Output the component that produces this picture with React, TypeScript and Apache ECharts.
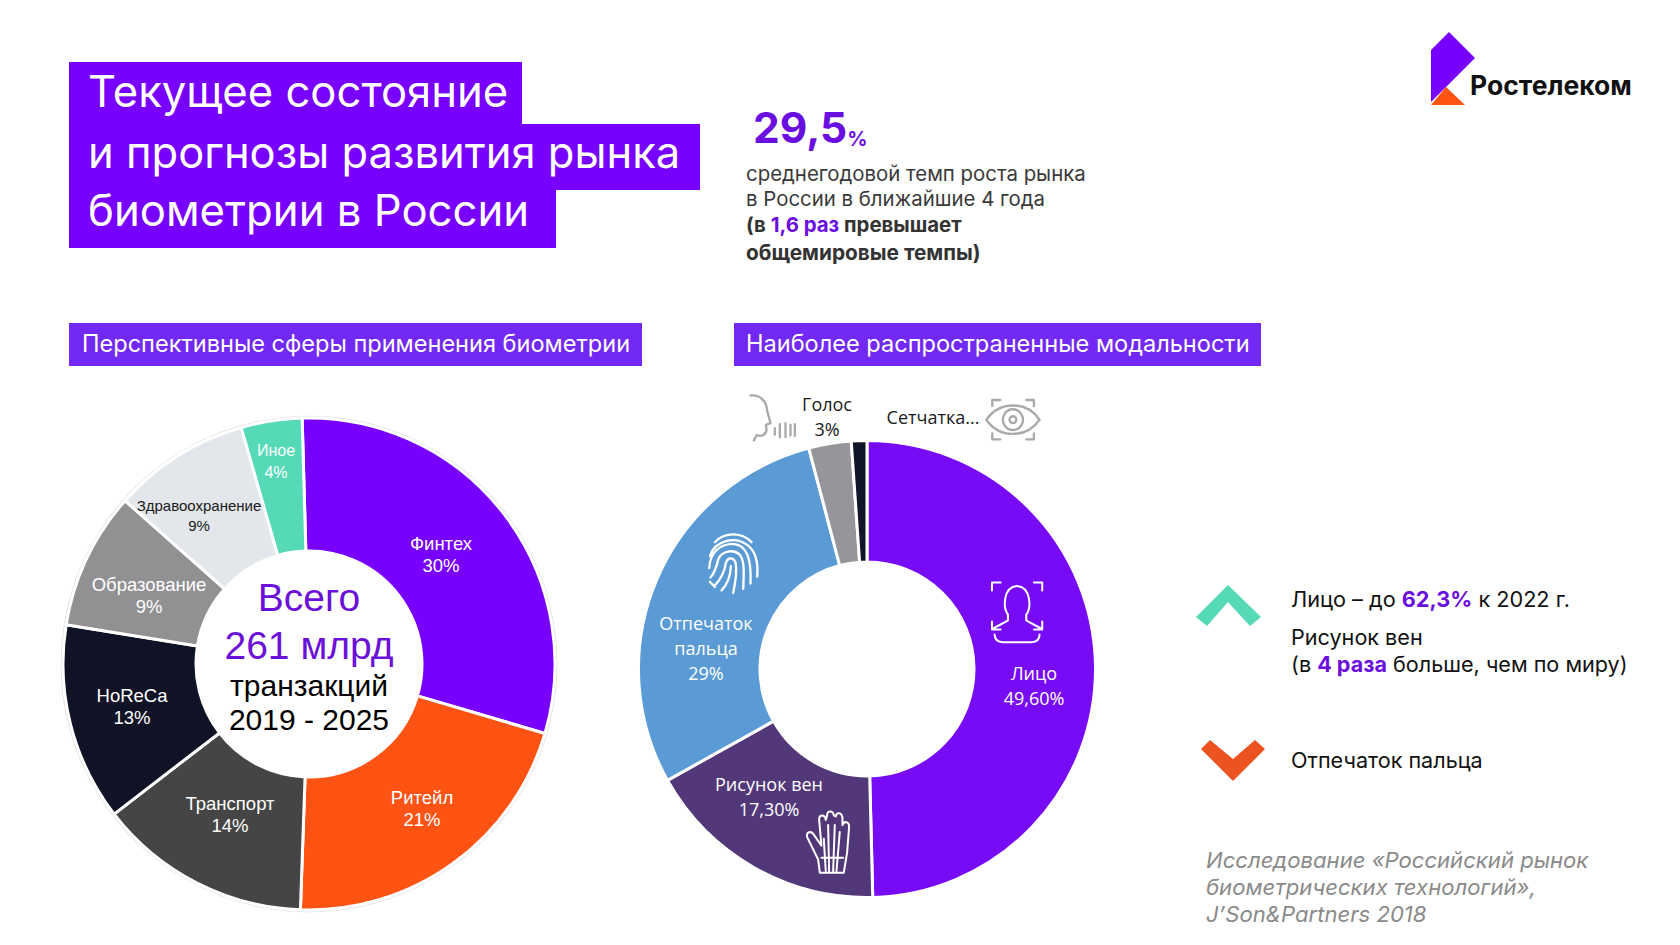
import React, { useEffect, useRef } from "react";
import * as echarts from "echarts";

const marketNames = ["Финтех", "Ритейл", "Транспорт", "HoReCa", "Образование", "Здравоохранение", "Иное"];
const marketValues = [30, 21, 14, 13, 9, 9, 4];
const marketColors = ["#7700FF", "#FF5314", "#454545", "#101325", "#919194", "#E3E7EC", "#55D9B6"];
const marketLabelColors = ["#fff", "#fff", "#fff", "#fff", "#fff", "#1a1a1a", "#fff"];
const marketLabelX = [441, 422, 230, 132, 149, 199, 276];
const marketLabelY = [554, 808, 814, 706, 595, 515, 461];

const modalityNames = ["Лицо", "Рисунок вен", "Отпечаток\nпальца", "Голос", "Сетчатка..."];
const modalityValues = [49.6, 17.3, 29, 3, 1.1];
const modalityText = ["49,60%", "17,30%", "29%", "3%", ""];
const modalityColors = ["#770BF5", "#523878", "#5B9BD5", "#96969A", "#101528"];
const modalityLabelColors = ["#fff", "#fff", "#fff", "#1a1a1a", "#1a1a1a"];
const modalityLabelX = [1034, 769, 706, 827, 933];
const modalityLabelY = [685, 796, 648, 416, 417];

const PURPLE = "#7700FF";
const HEAD = "#7229F5";
const ACCENT = "#6A0FE0";
const SANS = "Inter, 'Noto Sans', sans-serif";
const ARIAL = "'Liberation Sans', Arial, sans-serif";
const CAL = "'Open Sans', 'Noto Sans', sans-serif";

const icons: Record<string, string> = {
  iconFace:
    "M1117 610V587H1143 M1243 587H1268V610 M1117 700V723H1143 M1268 700V723H1243 M1165 680C1150 660 1150 600 1192 597C1235 600 1235 660 1220 680L1220 697C1235 706 1250 712 1268 722 M1165 680L1165 697C1150 706 1135 712 1117 722 M1125 738C1125 755 1135 760 1150 760H1235C1250 760 1260 755 1260 738",
  iconPrint:
    "M285 470C315 440 365 440 395 470 M270 510C285 465 345 450 385 480C410 500 415 535 412 570 M268 545C270 500 300 475 340 475C380 478 395 515 392 590 M272 572C285 560 290 540 295 520C305 495 340 490 358 505C375 520 372 560 370 605 M285 595C305 575 315 550 318 530C325 510 345 515 348 535C352 565 345 590 340 617 M305 610C325 590 332 565 333 540 M270 585L285 600",
  iconHand:
    "M600 1428L595 1390L562 1325C558 1310 575 1305 582 1318L605 1350L598 1275C598 1258 615 1258 618 1275L622 1262C622 1247 640 1247 642 1262L648 1265C650 1252 665 1252 668 1268L668 1290C672 1278 688 1278 688 1295L682 1370L672 1428Z M625 1290L628 1425 M645 1290L640 1425 M612 1330L618 1425 M660 1310L650 1425 M605 1385H670",
  iconVoice:
    "M392 45C420 42 440 60 442 90L452 125L438 130L440 145C438 160 425 165 410 160L402 175 M465 140V158 M480 128V166 M497 125V165 M512 130V160 M525 128V162",
  iconEye:
    "M1100 115C1140 60 1220 60 1260 115C1220 170 1140 170 1100 115Z M1180 85A30 30 0 1 0 1180.01 85Z M1180 105A10 10 0 1 0 1180.01 105Z M1118 75V58H1142 M1220 58H1243V75 M1118 155V172H1142 M1220 172H1243V155",
};
Object.keys(icons).forEach((k) => {
  echarts.graphic.registerShape(k, (echarts.graphic as any).extendPath(icons[k], {}));
});

const icon = (type: string, stroke: string, lineWidth: number) => ({
  type,
  x: 620,
  y: 380,
  scaleX: 1 / 3,
  scaleY: 1 / 2.9,
  z: 10,
  silent: true,
  style: { fill: "none", stroke, lineWidth, lineCap: "round", lineJoin: "round" },
});

const rect = (x: number, y: number, w: number, h: number, fill: string) => ({
  type: "rect",
  z: 1,
  silent: true,
  shape: { x, y, width: w, height: h },
  style: { fill },
});

const text = (t: string, x: number, y: number, fontSize: number, fill: string, extra: any = {}) => ({
  type: "text",
  z: 5,
  silent: true,
  style: {
    text: t,
    x,
    y,
    fontSize,
    fontFamily: SANS,
    fill,
    verticalAlign: "middle",
    align: "left",
    ...extra,
  },
});

const poly = (points: number[][], fill: string) => ({
  type: "polygon",
  z: 3,
  silent: true,
  shape: { points },
  style: { fill },
});

export default function App() {
  const ref = useRef<HTMLDivElement>(null);
  useEffect(() => {
    document.body.style.margin = "0";
    const chart = echarts.init(ref.current!, null, { renderer: "svg" });
    const rich = (size: number, base: string, bold = false) => ({
      b: { fontSize: size, fontFamily: SANS, fill: base, fontWeight: bold ? "bold" : "normal" },
      v: { fontSize: size, fontFamily: SANS, fill: ACCENT, fontWeight: "bold" },
    });
    chart.setOption({
      animation: false,
      backgroundColor: "#ffffff",
      series: [
        {
          type: "pie",
          name: "Перспективные сферы применения биометрии",
          center: [309, 664],
          radius: [113, 246],
          startAngle: 91.6,
          avoidLabelOverlap: false,
          silent: true,
          z: 3,
          itemStyle: { borderColor: "#fff", borderWidth: 3 },
          labelLine: { show: false },
          labelLayout: (p: any) => ({
            x: marketLabelX[p.dataIndex],
            y: marketLabelY[p.dataIndex],
            align: "center",
            verticalAlign: "middle",
          }),
          data: marketNames.map((name, i) => ({
            name,
            value: marketValues[i],
            itemStyle: { color: marketColors[i] },
            label: {
              show: true,
              position: "inside",
              formatter: `${name}\n${marketValues[i]}%`,
              color: marketLabelColors[i],
              fontFamily: ARIAL,
              fontSize: i === 5 ? 15 : i === 6 ? 16 : 18.5,
              lineHeight: i === 5 ? 20 : 22,
              textBorderWidth: 0,
            },
          })),
        },
        {
          type: "pie",
          name: "Наиболее распространенные модальности",
          center: [867, 669],
          radius: [107, 228.5],
          startAngle: 90,
          avoidLabelOverlap: false,
          silent: true,
          z: 3,
          itemStyle: { borderColor: "#fff", borderWidth: 3 },
          labelLine: { show: false },
          labelLayout: (p: any) => ({
            x: modalityLabelX[p.dataIndex],
            y: modalityLabelY[p.dataIndex],
            align: "center",
            verticalAlign: "middle",
          }),
          data: modalityNames.map((name, i) => ({
            name,
            value: modalityValues[i],
            itemStyle: { color: modalityColors[i] },
            label: {
              show: true,
              position: "inside",
              formatter: modalityText[i] ? `${name}\n${modalityText[i]}` : name,
              color: modalityLabelColors[i],
              fontFamily: CAL,
              fontSize: 18,
              lineHeight: 25,
            },
          })),
        },
      ],
      graphic: [
        rect(69, 62, 453, 63, PURPLE),
        rect(69, 124, 631, 66, PURPLE),
        rect(69, 189, 487, 59, PURPLE),
        text("Текущее состояние", 88, 91, 43.6, "#fff"),
        text("и прогнозы развития рынка", 88, 152, 43.5, "#fff"),
        text("биометрии в России", 88, 210, 43.7, "#fff"),

        text("{a|29,5}{p|%}", 753, 127, 42.5, ACCENT, {
          rich: {
            a: { fontSize: 42.5, fontFamily: SANS, fontWeight: "bold", fill: ACCENT },
            p: { fontSize: 20, fontFamily: SANS, fontWeight: "bold", fill: ACCENT, verticalAlign: "bottom" },
          },
        }),
        text("среднегодовой темп роста рынка", 746, 173, 20.4, "#3a3a3a"),
        text("в России в ближайшие 4 года", 746, 198, 20.4, "#3a3a3a"),
        text("{b|(в }{v|1,6 раз}{b| превышает}", 746, 224, 20.4, "#333", { rich: rich(20.4, "#333", true) }),
        text("общемировые темпы)", 746, 252, 20.8, "#333", { fontWeight: "bold" }),

        rect(69, 323, 573, 43, HEAD),
        rect(734, 323, 527, 43, HEAD),
        text("Перспективные сферы применения биометрии", 82, 343, 23.55, "#fff"),
        text("Наиболее распространенные модальности", 746, 343, 23.55, "#fff"),

        {
          type: "circle",
          z: 0,
          silent: true,
          shape: { cx: 309, cy: 664, r: 247.5 },
          style: { fill: "none", stroke: "#e4e4e4", lineWidth: 1.5 },
        },
        text("Всего", 309, 597, 39, "#6A10D8", { align: "center", fontFamily: ARIAL }),
        text("261 млрд", 309, 645, 39, "#6A10D8", { align: "center", fontFamily: ARIAL }),
        text("транзакций", 309, 685, 30, "#000", { align: "center", fontFamily: ARIAL }),
        text("2019 - 2025", 309, 719, 30, "#000", { align: "center", fontFamily: ARIAL }),

        icon("iconFace", "#fff", 6),
        icon("iconPrint", "#fff", 7),
        icon("iconHand", "#fff", 6),
        icon("iconVoice", "#aaaaaa", 7),
        icon("iconEye", "#aaaaaa", 7),

        poly([[1228, 585], [1261, 617], [1250, 626], [1228, 602], [1207, 626], [1196, 617]], "#55D9B6"),
        poly([[1201, 749], [1210, 740], [1233, 759], [1255, 740], [1265, 749], [1233, 781]], "#EC5320"),
        text("{b|Лицо – до }{v|62,3%}{b| к 2022 г.}", 1291, 599, 21.7, "#111", { rich: rich(21.7, "#111") }),
        text("Рисунок вен", 1291, 637, 21.6, "#111"),
        text("{b|(в }{v|4 раза}{b| больше, чем по миру)}", 1291, 664, 21.6, "#111", { rich: rich(21.6, "#111") }),
        text("Отпечаток пальца", 1291, 760, 21.6, "#111"),

        text("Исследование «Российский рынок", 1206, 860, 22.1, "#8a8a8a", { fontStyle: "italic" }),
        text("биометрических технологий»,", 1206, 887, 22.1, "#8a8a8a", { fontStyle: "italic" }),
        text("J’Son&Partners 2018", 1206, 914, 22.1, "#8a8a8a", { fontStyle: "italic" }),

        poly([[1449, 32], [1475, 58], [1446, 87], [1431, 102], [1431, 50]], PURPLE),
        poly([[1446, 87], [1465, 105], [1431, 105]], "#FF5314"),
        text("Ростелеком", 1470, 85, 26.5, "#111", { fontWeight: "bold" }),
      ],
    });
    return () => chart.dispose();
  }, []);
  return <div ref={ref} style={{ width: 1680, height: 945 }} />;
}
